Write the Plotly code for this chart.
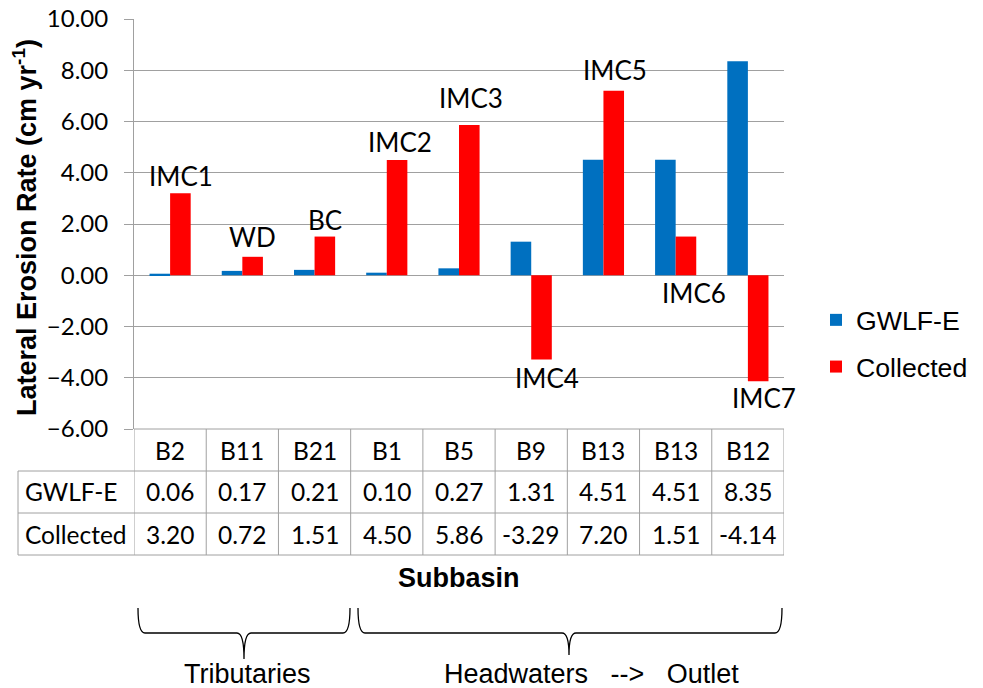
import plotly.graph_objects as go

# ---------------- data ----------------
categories = ["B2", "B11", "B21", "B1", "B5", "B9", "B13", "B13", "B12"]
gwlf_e = [0.06, 0.17, 0.21, 0.10, 0.27, 1.31, 4.51, 4.51, 8.35]
collected = [3.20, 0.72, 1.51, 4.50, 5.86, -3.29, 7.20, 1.51, -4.14]
site_labels = ["IMC1", "WD", "BC", "IMC2", "IMC3", "IMC4", "IMC5", "IMC6", "IMC7"]
series_names = ["GWLF-E", "Collected"]
y_ticks = [-6, -4, -2, 0, 2, 4, 6, 8, 10]
group_labels = ["Tributaries", "Headwaters\u00a0\u00a0\u00a0-->\u00a0\u00a0\u00a0Outlet"]

# ---------------- layout constants (reference pixels) ----------------
W, H = 983, 688
OFF = 8  # page body margin in the browser
L, R, T, B = 134, 784, 19, 429
PW, PH = R - L, B - T
BLUE, RED = "#0070C0", "#FF0000"
GRID = "#A0A0A0"
CAL = "Lato, Carlito, Calibri, sans-serif"
ARI = "Arial, Liberation Sans, sans-serif"

def px(xp):
    return (xp - L) / PW

def py(yp):
    return (B - yp) / PH

x_idx = list(range(len(categories)))

fig = go.Figure()
fig.add_trace(go.Bar(x=x_idx, y=gwlf_e, name=series_names[0], marker_color=BLUE,
                     marker_line_width=0, legendgroup="g1"))
fig.add_trace(go.Bar(x=x_idx, y=collected, name=series_names[1], marker_color=RED,
                     marker_line_width=0, legendgroup="g2"))

shapes = []
annotations = []

# bar labels (placement offsets in px: dx from red-bar centre, dy)
label_place = {
    "IMC1": (0, 17, "v"), "WD": (0, 20, "v"), "BC": (0, 17, "v"),
    "IMC2": (3, 18, "v"), "IMC3": (1, 27, "v"), "IMC4": (5, -18, "v"),
    "IMC5": (1, 21, "v"), "IMC6": (8, -18, "0"), "IMC7": (6, -17, "v"),
}
for i, lab in enumerate(site_labels):
    dx, dy, ref = label_place[lab]
    yv = collected[i] if ref == "v" else 0
    annotations.append(dict(x=i, y=yv, xref="x", yref="y", text=lab, showarrow=False,
                            xshift=10.5 + dx, yshift=dy, xanchor="center", yanchor="middle",
                            font=dict(family=CAL, size=26, color="black")))

# data table
row_y = [429, 471, 513, 555]
line = dict(color=GRID, width=1)
for k in range(len(categories) + 1):
    shapes.append(dict(type="line", xref="x", yref="paper", x0=k - 0.5, x1=k - 0.5,
                       y0=py(row_y[0]), y1=py(row_y[-1]), line=line))
shapes.append(dict(type="line", xref="paper", yref="paper", x0=px(18), x1=px(18),
                   y0=py(row_y[1]), y1=py(row_y[-1]), line=line))
shapes.append(dict(type="line", xref="paper", yref="paper", x0=0, x1=1,
                   y0=py(row_y[0]), y1=py(row_y[0]), line=line))
for yy in row_y[1:]:
    shapes.append(dict(type="line", xref="paper", yref="paper", x0=px(18), x1=1,
                       y0=py(yy), y1=py(yy), line=line))

rows = [("", categories), (series_names[0], [f"{v:.2f}" for v in gwlf_e]),
        (series_names[1], [f"{v:.2f}" for v in collected])]
for r, (rname, vals) in enumerate(rows):
    yc = py((row_y[r] + row_y[r + 1]) / 2)
    for i, v in enumerate(vals):
        annotations.append(dict(x=i, y=yc, xref="x", yref="paper", text=v, showarrow=False,
                                xanchor="center", yanchor="middle",
                                font=dict(family=CAL, size=24.5, color="black")))
    if rname:
        annotations.append(dict(x=px(23), y=yc, xref="paper", yref="paper", text=rname,
                                showarrow=False, xanchor="left", yanchor="middle",
                                font=dict(family=CAL, size=24.5, color="black")))

# axis titles
annotations.append(dict(x=0.5, y=py(578), xref="paper", yref="paper", text="<b>Subbasin</b>",
                        showarrow=False, xanchor="center", yanchor="middle",
                        font=dict(family=ARI, size=27, color="black")))
annotations.append(dict(x=px(25), y=py(228), xref="paper", yref="paper",
                        text="<b>Lateral Erosion Rate (cm yr<sup>-1</sup>)</b>",
                        showarrow=False, textangle=-90, xanchor="center", yanchor="middle",
                        font=dict(family=ARI, size=27, color="black")))

# braces
def brace(x0, x1, xm, ytop, ymid, ytip):
    pts = lambda a, b: f"{px(a):.5f},{py(b):.5f}"
    r = 7
    return ("M " + pts(x0, ytop) + " Q " + pts(x0, ymid) + " " + pts(x0 + r, ymid) +
            " L " + pts(xm - r, ymid) + " Q " + pts(xm, ymid) + " " + pts(xm, ytip) +
            " Q " + pts(xm, ymid) + " " + pts(xm + r, ymid) +
            " L " + pts(x1 - r, ymid) + " Q " + pts(x1, ymid) + " " + pts(x1, ytop))

shapes.append(dict(type="path", xref="paper", yref="paper",
                   path=brace(138, 350, 244, 608, 633, 659), line=dict(color="black", width=1.3)))
shapes.append(dict(type="path", xref="paper", yref="paper",
                   path=brace(358, 782, 569, 608, 633, 655), line=dict(color="black", width=1.3)))
annotations.append(dict(x=px(247), y=py(674), xref="paper", yref="paper", text=group_labels[0],
                        showarrow=False, xanchor="center", yanchor="middle",
                        font=dict(family=ARI, size=27, color="black")))
annotations.append(dict(x=px(591), y=py(674), xref="paper", yref="paper", text=group_labels[1],
                        showarrow=False, xanchor="center", yanchor="middle",
                        font=dict(family=ARI, size=27, color="black")))

fig.update_layout(
    width=W, height=H,
    margin=dict(l=L - OFF, r=W - (R - OFF), t=T - OFF, b=H - (B - OFF), pad=0,
                autoexpand=False),
    paper_bgcolor="white", plot_bgcolor="white",
    barmode="group", bargap=0.43, bargroupgap=0,
    showlegend=True,
    legend=dict(x=px(816), y=py(296), xanchor="left", yanchor="top",
                font=dict(family=ARI, size=26.7, color="black"),
                traceorder="grouped", tracegroupgap=9, bgcolor="rgba(0,0,0,0)"),
    xaxis=dict(range=[-0.5, len(categories) - 0.5], showticklabels=False, showgrid=False,
               zeroline=False, showline=False, ticks="", automargin=False),
    yaxis=dict(range=[-6, 10], tickvals=y_ticks, tickformat=".2f", showgrid=True,
               gridcolor=GRID, gridwidth=1, zeroline=False, showline=True, linecolor=GRID,
               linewidth=1, ticks="outside", ticklen=9, tickcolor=GRID, ticklabelstandoff=11,
               ticklabeloverflow="allow", automargin=False,
               tickfont=dict(family=CAL, size=24, color="black")),
    shapes=shapes, annotations=annotations,
)

fig.write_html("out.html")
